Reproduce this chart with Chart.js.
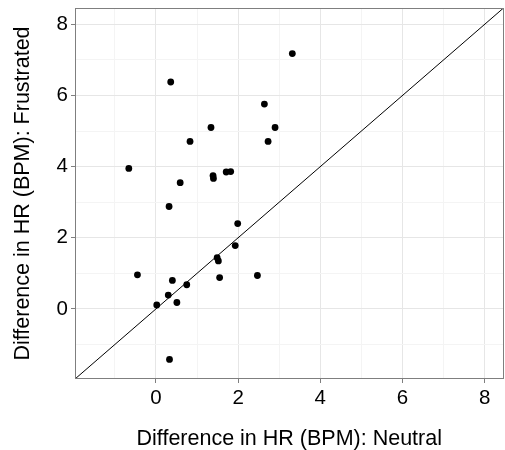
<!DOCTYPE html>
<html>
<head>
<meta charset="utf-8">
<script src="https://cdn.jsdelivr.net/npm/chart.js@4/dist/chart.umd.min.js"></script>
<style>
  html, body { margin: 0; padding: 0; background: #ffffff; }
  #wrap { width: 505px; height: 450px; }
</style>
</head>
<body>
<div id="wrap"><canvas id="c" width="505" height="450"></canvas></div>
<script>
// Difference in HR (BPM) per participant
const neutral = [-0.66, 0.36, 0.83, 0.59, 1.34, 1.39, 1.40, 1.71, 1.82, 2.64, 2.73, 2.90, 3.32,
                 0.32, 1.99, 1.93, 1.49, 1.52, 1.55, -0.45, 0.40, 0.75, 0.30, 0.02, 0.51, 2.47, 0.33];
const frustrated = [3.95, 6.38, 4.71, 3.55, 5.10, 3.75, 3.67, 3.85, 3.86, 5.76, 4.71, 5.10, 7.18,
                    2.88, 2.40, 1.78, 1.44, 1.35, 0.88, 0.96, 0.80, 0.68, 0.39, 0.11, 0.18, 0.94, -1.42];
const axisLimits = [-1.97, 8.46];
const tickLabels = [0, 2, 4, 6, 8];
const gridValues = [-1, 0, 1, 2, 3, 4, 5, 6, 7, 8];
const xTitle = "Difference in HR (BPM): Neutral";
const yTitle = "Difference in HR (BPM): Frustrated";

const points = neutral.map((v, i) => ({ x: v, y: frustrated[i] }));
const identityLine = axisLimits.map(v => ({ x: v, y: v }));

const FONT = "'Liberation Sans', Arial, Helvetica, sans-serif";

const panelBorder = {
  id: 'panelBorder',
  afterDatasetsDraw(chart) {
    const a = chart.chartArea, ctx = chart.ctx;
    ctx.save();
    ctx.strokeStyle = '#7f7f7f';
    ctx.lineWidth = 1;
    ctx.strokeRect(Math.round(a.left) + 0.5, Math.round(a.top) + 0.5,
                   Math.round(a.right - a.left) - 1, Math.round(a.bottom - a.top) - 1);
    ctx.restore();
  }
};

function axisCfg(title, isX) {
  return {
    type: 'linear',
    min: axisLimits[0],
    max: axisLimits[1],
    afterBuildTicks: s => { s.ticks = gridValues.map(v => ({ value: v })); },
    afterFit: s => {
      if (isX) { s.height = 71; s.paddingLeft = 0; s.paddingRight = 0; }
      else { s.width = 75; s.paddingTop = 0; s.paddingBottom = 0; }
    },
    border: { display: false },
    grid: {
      color: c => tickLabels.includes(c.tick && c.tick.value) ? '#e6e6e6' : '#f4f4f4',
      lineWidth: 1,
      drawTicks: true,
      tickLength: 4,
      tickColor: c => tickLabels.includes(c.tick && c.tick.value) ? '#7f7f7f' : 'rgba(0,0,0,0)'
    },
    ticks: {
      autoSkip: false,
      maxRotation: 0,
      padding: 3,
      color: '#000000',
      font: { family: FONT, size: 20.5 },
      callback: v => tickLabels.includes(v) ? String(v) : ''
    },
    title: {
      display: true,
      text: title,
      color: '#000000',
      font: { family: FONT, size: 21.5, lineHeight: 1 },
      padding: { top: isX ? -2 : 12, bottom: 0 }
    }
  };
}

new Chart(document.getElementById('c'), {
  type: 'scatter',
  data: {
    datasets: [
      {
        type: 'line',
        data: identityLine,
        borderColor: '#000000',
        borderWidth: 1,
        pointRadius: 0,
        fill: false,
        tension: 0
      },
      {
        data: points,
        backgroundColor: '#000000',
        borderColor: '#000000',
        pointRadius: 3.4,
        pointBorderWidth: 0
      }
    ]
  },
  options: {
    responsive: false,
    animation: false,
    devicePixelRatio: 1,
    layout: { autoPadding: false, padding: { top: 8, right: 1.5, left: 0, bottom: 0 } },
    plugins: { legend: { display: false }, tooltip: { enabled: false } },
    scales: {
      x: axisCfg(xTitle, true),
      y: axisCfg(yTitle, false)
    }
  },
  plugins: [panelBorder]
});
</script>
</body>
</html>
